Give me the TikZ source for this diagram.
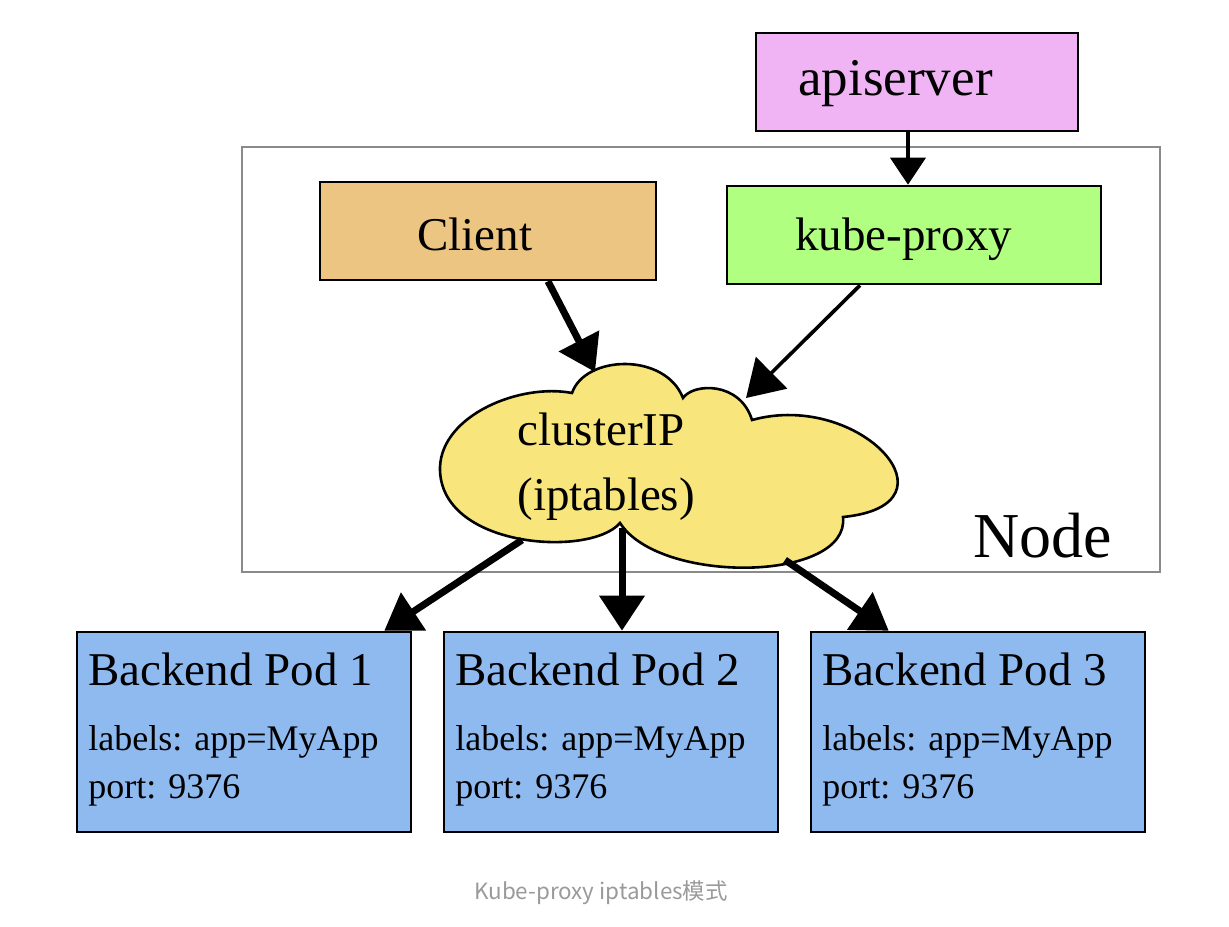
\documentclass[tikz,border=0pt]{standalone}
\usepackage{fontspec}
\setmainfont{Liberation Serif}
\newfontfamily\cjkfont{Noto Sans CJK SC}
\usetikzlibrary{arrows.meta}
\definecolor{apicol}{HTML}{F0B4F5}
\definecolor{clientcol}{HTML}{EDC582}
\definecolor{proxycol}{HTML}{B0FF80}
\definecolor{cloudcol}{HTML}{F8E67C}
\definecolor{podcol}{HTML}{8FBAF0}
\definecolor{framecol}{HTML}{8A8A8A}
\definecolor{capcol}{HTML}{9A9A9A}
\begin{document}
\begin{tikzpicture}[x=0.5pt,y=-0.5pt,
  box/.style={draw=black, line width=1.3pt, rectangle, inner sep=0pt},
  bigtxt/.style={font=\fontsize{23.5pt}{28pt}\selectfont, inner sep=0pt},
  apitxt/.style={font=\fontsize{26.5pt}{31pt}\selectfont, inner sep=0pt},
  smalltxt/.style={font=\fontsize{18pt}{22pt}\selectfont, inner sep=0pt},
  nodetxt/.style={font=\fontsize{32pt}{38pt}\selectfont, inner sep=0pt},
  thickarrow/.style={line width=3.5pt, -{Triangle[length=17.5pt,width=22pt]}},
  medarrow/.style={line width=1.8pt, -{Triangle[length=18pt,width=22pt]}},
  thinarrow/.style={line width=2pt, -{Triangle[length=13.5pt,width=17.5pt]}}]
\useasboundingbox (0,0) rectangle (1229,926);
\fill[white] (0,0) rectangle (1229,926);
% Node frame
\node[draw=framecol, line width=0.8pt, rectangle, inner sep=0pt,
      minimum width=459pt, minimum height=212.5pt] (frame) at (701,359.5) {};
\node[nodetxt, anchor=base] (nodelbl) at (1043,557) {Node};
% boxes
\node[box, fill=apicol, minimum width=161pt, minimum height=49pt] (api) at (917,82) {};
\node[apitxt, anchor=base west] (apit) at (798,95) {apiserver};
\node[box, fill=clientcol, minimum width=168pt, minimum height=49pt] (client) at (488,231) {};
\node[bigtxt, anchor=base west] (clientt) at (417,250) {Client};
\node[box, fill=proxycol, minimum width=187pt, minimum height=49pt] (proxy) at (914,235) {};
\node[bigtxt, anchor=base west] (proxyt) at (795,250) {kube-proxy};
% cloud
\path[draw=black, fill=cloudcol, line width=1.3pt]
  (572,393) .. controls (585,355) and (665,352) .. (683,398)
  .. controls (693,383) and (740,381) .. (752,420)
  .. controls (860,390) and (965,505) .. (843,517)
  .. controls (850,582) and (660,585) .. (620,523)
  .. controls (590,558) and (438,548) .. (440,467)
  .. controls (442,415) and (520,383) .. (572,393) -- cycle;
\node[bigtxt, anchor=base west] (cloud) at (517,445) {clusterIP};
\node[bigtxt, anchor=base west] (cloud2) at (517,510) {(iptables)};
\coordinate (cIn) at (595,372);
\coordinate (pIn) at (746,398);
\coordinate (o1) at (522,540);
\coordinate (o2) at (622,528);
\coordinate (o3) at (785,560);
% pods
\foreach \i/\cx in {1/244,2/611,3/978}{
  \node[box, fill=podcol, minimum width=167pt, minimum height=100pt] (pod\i) at (\cx,732) {};
  \node[bigtxt, anchor=base west] (podt\i) at (\cx-156,685) {Backend Pod \i};
  \node[smalltxt, anchor=base west] (podl\i) at (\cx-156,750) {labels: app=MyApp};
  \node[smalltxt, anchor=base west] (podp\i) at (\cx-156,798) {port: 9376};
}
% arrows
\draw[thinarrow] ([xshift=-4.5pt]api.south) -- ([xshift=-3pt]proxy.north);
\draw[thickarrow] ([xshift=30pt]client.south) -- (cIn);
\draw[medarrow] ([xshift=-27pt]proxy.south) -- (pIn);
\draw[thickarrow] (o1) -- ([xshift=-14pt]pod1.north east);
\draw[thickarrow] (o2) -- ([xshift=5.5pt]pod2.north);
\draw[thickarrow] (o3) -- ([xshift=39.5pt]pod3.north west);
% caption
\node[font=\cjkfont\fontsize{11.2pt}{13pt}\selectfont, text=capcol] (cap) at (601,893) {Kube-proxy iptables模式};
\end{tikzpicture}
\end{document}
